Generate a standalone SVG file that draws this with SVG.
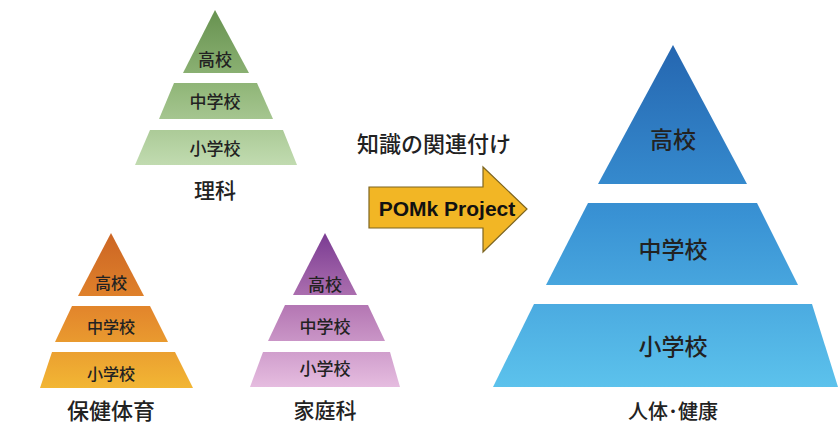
<svg xmlns="http://www.w3.org/2000/svg" width="839" height="426" viewBox="0 0 839 426">
<defs>
<linearGradient id="gGreen" gradientUnits="userSpaceOnUse" x1="0" y1="10" x2="0" y2="165">
<stop offset="0" stop-color="#679250"/><stop offset="0.5" stop-color="#92b77a"/><stop offset="1" stop-color="#c1dbb0"/>
</linearGradient>
<linearGradient id="gOrange" gradientUnits="userSpaceOnUse" x1="0" y1="233" x2="0" y2="388">
<stop offset="0" stop-color="#cc6524"/><stop offset="0.5" stop-color="#e3872c"/><stop offset="1" stop-color="#f2b634"/>
</linearGradient>
<linearGradient id="gPurple" gradientUnits="userSpaceOnUse" x1="0" y1="233" x2="0" y2="388">
<stop offset="0" stop-color="#7a3b92"/><stop offset="0.5" stop-color="#b77bb6"/><stop offset="1" stop-color="#e6bde0"/>
</linearGradient>
<linearGradient id="gBlue" gradientUnits="userSpaceOnUse" x1="0" y1="45" x2="0" y2="387">
<stop offset="0" stop-color="#2566b0"/><stop offset="0.5" stop-color="#3992d4"/><stop offset="1" stop-color="#5cc2ec"/>
</linearGradient>
</defs>
<style>
text{font-family:"Noto Sans CJK JP","Noto Sans",sans-serif;fill:#222;text-anchor:middle;dominant-baseline:central;font-weight:500}
.t{font-size:17px}
.th{font-size:16px}
.tb{font-size:23px}
.lab{font-size:21px}
.arrowtxt{font-family:"Liberation Sans",Arial,sans-serif;font-weight:bold;font-size:21px;fill:#111}
</style>
<rect width="839" height="426" fill="#ffffff"/>

<g id="science">
<polygon points="215,10 249,73 183,73" fill="url(#gGreen)"/>
<polygon points="174,83 257,83 273,119 159,119" fill="url(#gGreen)"/>
<polygon points="150,130 283,130 297,165 135,165" fill="url(#gGreen)"/>
<text class="t" x="215" y="58">高校</text>
<text class="t" x="215" y="100">中学校</text>
<text class="t" x="215" y="147">小学校</text>
<text class="lab" x="215" y="189">理科</text>
</g>

<g id="health">
<polygon points="111,233 144,296 78,296" fill="url(#gOrange)"/>
<polygon points="72,306 150,306 168,342 55,342" fill="url(#gOrange)"/>
<polygon points="52,352 175,352 193,388 40,388" fill="url(#gOrange)"/>
<text class="th" x="111" y="282">高校</text>
<text class="th" x="111" y="326">中学校</text>
<text class="th" x="111" y="373">小学校</text>
<text class="lab" x="111" y="409" style="font-size:22px">保健体育</text>
</g>

<g id="homeec">
<polygon points="325,233 357,295 293,295" fill="url(#gPurple)"/>
<polygon points="285,305 368,305 385,341 268,341" fill="url(#gPurple)"/>
<polygon points="263,352 390,352 400,387 250,387" fill="url(#gPurple)"/>
<text class="t" x="325" y="283">高校</text>
<text class="t" x="325" y="325">中学校</text>
<text class="t" x="325" y="367">小学校</text>
<text class="lab" x="325" y="409">家庭科</text>
</g>

<g id="connectors">
<text class="lab" x="434" y="142" style="font-size:22px">知識の関連付け</text>
<polygon points="369,187 483,187 483,167 527,209 483,252 483,228 369,228" fill="#f2b625" stroke="#7d6520" stroke-width="1.2"/>
<text class="arrowtxt" x="447" y="208">POMk Project</text>
</g>

<g id="body">
<polygon points="673,45 747,184 598,184" fill="url(#gBlue)"/>
<polygon points="588,203 757,203 798,285 546,285" fill="url(#gBlue)"/>
<polygon points="534,304 812,304 838,387 493,387" fill="url(#gBlue)"/>
<text class="tb" x="673" y="138">高校</text>
<text class="tb" x="673" y="248">中学校</text>
<text class="tb" x="673" y="345">小学校</text>
<text class="lab" x="673" y="410" style="font-size:20px">人体･健康</text>
</g>
</svg>
